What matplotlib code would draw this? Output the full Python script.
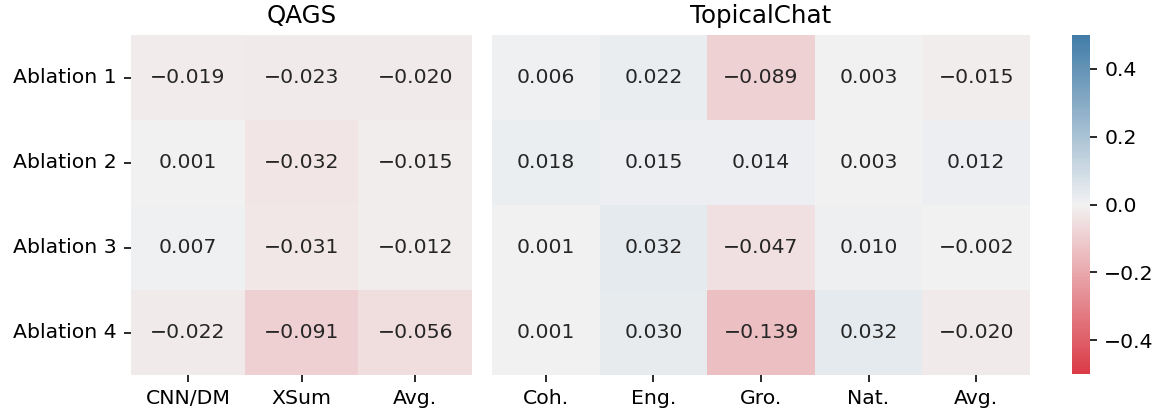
import numpy as np
import seaborn as sns
import matplotlib
matplotlib.use("Agg")
import matplotlib.pyplot as plt

rows = ["Ablation 1", "Ablation 2", "Ablation 3", "Ablation 4"]
qags_cols = ["CNN/DM", "XSum", "Avg."]
topical_cols = ["Coh.", "Eng.", "Gro.", "Nat.", "Avg."]

qags_vals = np.array([
    [-0.019, -0.023, -0.020],
    [0.001, -0.032, -0.015],
    [0.007, -0.031, -0.012],
    [-0.022, -0.091, -0.056],
])
topical_vals = np.array([
    [0.006, 0.022, -0.089, 0.003, -0.015],
    [0.018, 0.015, 0.014, 0.003, 0.012],
    [0.001, 0.032, -0.047, 0.010, -0.002],
    [0.001, 0.030, -0.139, 0.032, -0.020],
])


def labels(vals):
    # real minus sign like the original
    return np.vectorize(lambda v: f"{v:.3f}".replace("-", "\u2212"))(vals)


cmap = sns.diverging_palette(10, 240, as_cmap=True)

# small figure at high dpi -> all default sizes scale up together
W, H, DPI = 1162, 414, 147
fig = plt.figure(figsize=(W / DPI, H / DPI), dpi=DPI)
ax1 = fig.add_axes([131 / W, 1 - 375 / H, 341 / W, 340 / H])
ax2 = fig.add_axes([492 / W, 1 - 375 / H, 538 / W, 340 / H])
cax = fig.add_axes([1072 / W, 1 - 374 / H, 18 / W, 339 / H])

sns.heatmap(qags_vals, ax=ax1, cmap=cmap, vmin=-0.5, vmax=0.5, annot=labels(qags_vals), fmt="",
            annot_kws={"size": 10}, cbar=False, xticklabels=qags_cols, yticklabels=rows)
sns.heatmap(topical_vals, ax=ax2, cmap=cmap, vmin=-0.5, vmax=0.5, annot=labels(topical_vals),
            fmt="", annot_kws={"size": 10}, cbar=True, cbar_ax=cax,
            xticklabels=topical_cols, yticklabels=False)

ax1.set_title("QAGS", fontsize=12)
ax2.set_title("TopicalChat", fontsize=12)
for ax in (ax1, ax2):
    ax.tick_params(axis="x", labelsize=10, rotation=0)
    ax.tick_params(axis="y", labelsize=10, rotation=0)
cax.tick_params(labelsize=10)
cax.set_yticks([-0.4, -0.2, 0.0, 0.2, 0.4])

fig.savefig("out.png", dpi=DPI)
